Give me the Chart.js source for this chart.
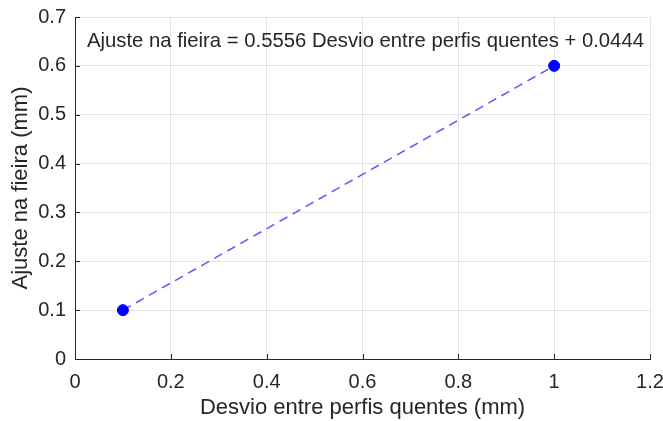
<!DOCTYPE html>
<html>
<head>
<meta charset="utf-8">
<script src="https://cdn.jsdelivr.net/npm/chart.js@4/dist/chart.umd.min.js"></script>
<style>
  html, body { margin: 0; padding: 0; background: #fff; }
  #wrap { width: 663px; height: 421px; }
</style>
</head>
<body>
<div id="wrap"><canvas id="chartCanvas" width="663" height="421"></canvas></div>
<script>
// data
var xValues = [0.1, 1.0]
var yValues = [0.1, 0.6]
var xTicks = [0, 0.2, 0.4, 0.6, 0.8, 1, 1.2]
var yTicks = [0, 0.1, 0.2, 0.3, 0.4, 0.5, 0.6, 0.7]
var xTitle = "Desvio entre perfis quentes (mm)"
var yTitle = "Ajuste na fieira (mm)"
var fitText = "Ajuste na fieira = 0.5556 Desvio entre perfis quentes + 0.0444"
var fitTextAt = [0.025, 0.65]   // where the text sits, in data units

var points = xValues.map((x, i) => ({ x: x, y: yValues[i] }))

var axisCol = "#262626"
var gridCol = "#e3e3e3"
var fontFam = "'Liberation Sans', Arial, sans-serif"

// MATLAB style: small inward ticks + the fit text
var extras = {
  id: "extras",
  afterDatasetsDraw(chart) {
    var ctx = chart.ctx
    var xs = chart.scales.x, ys = chart.scales.y
    var a = chart.chartArea
    ctx.save()
    ctx.strokeStyle = axisCol
    ctx.lineWidth = 1
    ctx.beginPath()
    xTicks.forEach(v => {
      var px = Math.round(xs.getPixelForValue(v)) + 0.5
      ctx.moveTo(px, a.bottom); ctx.lineTo(px, a.bottom - 5)
    })
    yTicks.forEach(v => {
      var py = Math.round(ys.getPixelForValue(v)) + 0.5
      ctx.moveTo(a.left, py); ctx.lineTo(a.left + 5, py)
    })
    ctx.stroke()
    ctx.fillStyle = axisCol
    ctx.font = "20.3px " + fontFam
    ctx.textBaseline = "middle"
    ctx.textAlign = "left"
    ctx.fillText(fitText, xs.getPixelForValue(fitTextAt[0]), ys.getPixelForValue(fitTextAt[1]))
    ctx.restore()
  }
}

new Chart(document.getElementById("chartCanvas"), {
  type: "scatter",
  data: {
    datasets: [
      {
        data: points,
        showLine: true,
        borderColor: "rgba(70,70,255,0.9)",
        borderWidth: 1.5,
        borderDash: [9, 6],
        pointRadius: 0,
        order: 2
      },
      {
        data: points,
        showLine: false,
        backgroundColor: "#0000ff",
        borderColor: "#0000ff",
        pointRadius: 5.5,
        order: 1
      }
    ]
  },
  options: {
    responsive: false,
    animation: false,
    layout: { padding: { top: 17, right: 13, left: 0, bottom: 0 } },
    plugins: { legend: { display: false }, tooltip: { enabled: false } },
    scales: {
      x: {
        type: "linear", min: 0, max: 1.2,
        afterBuildTicks: s => { s.ticks = xTicks.map(v => ({ value: v })) },
        afterFit: s => { s.height = 62; s.paddingLeft = 0; s.paddingRight = 0 },
        grid: { color: gridCol, drawTicks: false },
        border: { color: axisCol, width: 1 },
        ticks: {
          color: axisCol, padding: 11,
          font: { size: 20, family: fontFam },
          callback: v => String(v)
        },
        title: {
          display: true, text: xTitle, color: axisCol, padding: { top: 3, bottom: 0 },
          font: { size: 22, family: fontFam }
        }
      },
      y: {
        type: "linear", min: 0, max: 0.7,
        afterBuildTicks: s => { s.ticks = yTicks.map(v => ({ value: v })) },
        afterFit: s => { s.width = 75; s.paddingTop = 0; s.paddingBottom = 0 },
        grid: { color: gridCol, drawTicks: false },
        border: { color: axisCol, width: 1 },
        ticks: {
          color: axisCol, padding: 9,
          font: { size: 20, family: fontFam },
          callback: v => String(v)
        },
        title: {
          display: true, text: yTitle, color: axisCol, padding: { top: 8, bottom: 2 },
          font: { size: 22, family: fontFam }
        }
      }
    }
  },
  plugins: [extras]
})
</script>
</body>
</html>
